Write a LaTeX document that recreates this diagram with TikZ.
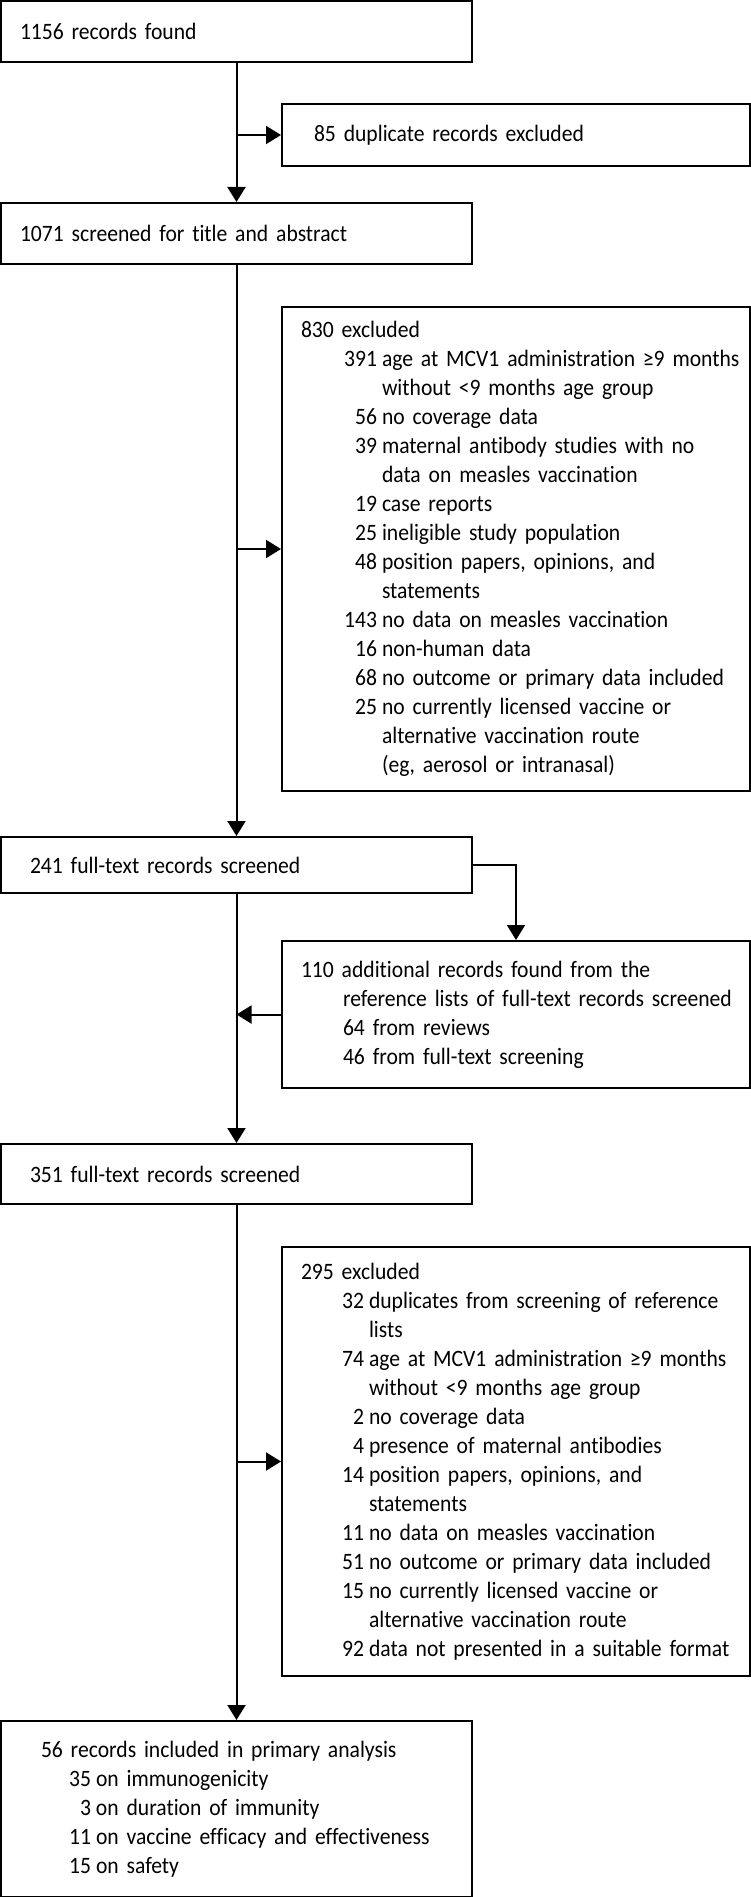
\documentclass[tikz,border=0pt]{standalone}
\usepackage{fontspec}
\setmainfont{Carlito}[Ligatures=NoCommon, FakeStretch=0.92, WordSpace=0.75]
\usetikzlibrary{arrows.meta}

\newlength{\numw}
\newcommand{\ent}[2]{\mbox{\makebox[\numw][r]{#1}\hspace{5pt}#2}}
\newcommand{\cont}[1]{\mbox{\hspace*{\numw}\hspace{5pt}#1}}

\begin{document}
\begin{tikzpicture}[x=1pt,y=-1pt]
  \tikzstyle{box} = [draw, line width=2pt, anchor=north west, align=left, inner ysep=0pt, font=\fontsize{23.5}{29}\selectfont]
  \tikzstyle{arrow} = [line width=2pt, -{Triangle[length=15pt,width=18pt]}]
  \useasboundingbox (0,0) rectangle (750,1897);

  \node[box, text width=433pt, inner xsep=19pt, minimum height=61pt] (found) at (0,0) {1156 records found};
  \node[box, text width=404pt, inner xsep=32pt, minimum height=62pt] (dup) at (281,103) {85 duplicate records excluded};
  \node[box, text width=433pt, inner xsep=19pt, minimum height=61pt] (screen) at (0,202) {1071 screened for title and abstract};

  \node[box, text width=430pt, inner xsep=19pt, minimum height=484pt] (excl1) at (281,306) {\setlength{\numw}{76pt}830 excluded\\
    \ent{391}{age at MCV1 administration ≥9 months}\\
    \cont{without <9 months age group}\\
    \ent{56}{no coverage data}\\
    \ent{39}{maternal antibody studies with no}\\
    \cont{data on measles vaccination}\\
    \ent{19}{case reports}\\
    \ent{25}{ineligible study population}\\
    \ent{48}{position papers, opinions, and}\\
    \cont{statements}\\
    \ent{143}{no data on measles vaccination}\\
    \ent{16}{non-human data}\\
    \ent{68}{no outcome or primary data included}\\
    \ent{25}{no currently licensed vaccine or}\\
    \cont{alternative vaccination route}\\
    \cont{(eg, aerosol or intranasal)}};

  \node[box, text width=413pt, inner xsep=29pt, minimum height=56pt] (full1) at (0,836) {241 full-text records screened};

  \node[box, text width=430pt, inner xsep=19pt, minimum height=147pt] (add) at (281,940) {\setlength{\numw}{37pt}110 additional records found from the\\
    \cont{reference lists of full-text records screened}\\
    \cont{64 from reviews}\\
    \cont{46 from full-text screening}};

  \node[box, text width=413pt, inner xsep=29pt, minimum height=60pt] (full2) at (0,1143) {351 full-text records screened};

  \node[box, text width=430pt, inner xsep=19pt, minimum height=429pt] (excl2) at (281,1246) {\setlength{\numw}{63pt}295 excluded\\
    \ent{32}{duplicates from screening of reference}\\
    \cont{lists}\\
    \ent{74}{age at MCV1 administration ≥9 months}\\
    \cont{without <9 months age group}\\
    \ent{2}{no coverage data}\\
    \ent{4}{presence of maternal antibodies}\\
    \ent{14}{position papers, opinions, and}\\
    \cont{statements}\\
    \ent{11}{no data on measles vaccination}\\
    \ent{51}{no outcome or primary data included}\\
    \ent{15}{no currently licensed vaccine or}\\
    \cont{alternative vaccination route}\\
    \ent{92}{data not presented in a suitable format}};

  \node[box, text width=391pt, inner xsep=40pt, minimum height=176pt] (incl) at (0,1720) {\setlength{\numw}{50pt}56 records included in primary analysis\\
    \ent{35}{on immunogenicity}\\
    \ent{3}{on duration of immunity}\\
    \ent{11}{on vaccine efficacy and effectiveness}\\
    \ent{15}{on safety}};

  % main flow
  \draw[arrow] (found.south) -- (screen.north);
  \draw[arrow] (found.south |- dup.west) -- (dup.west);
  \draw[arrow] (screen.south) -- (full1.north);
  \draw[arrow] (screen.south |- excl1.west) -- (excl1.west);
  \draw[arrow] (full1.east) -| (add.north);
  \draw[arrow] (add.west) -- (full1.south |- add.west);
  \draw[arrow] (full1.south) -- (full2.north);
  \draw[arrow] (full2.south) -- (incl.north);
  \draw[arrow] (full2.south |- excl2.west) -- (excl2.west);
\end{tikzpicture}
\end{document}
